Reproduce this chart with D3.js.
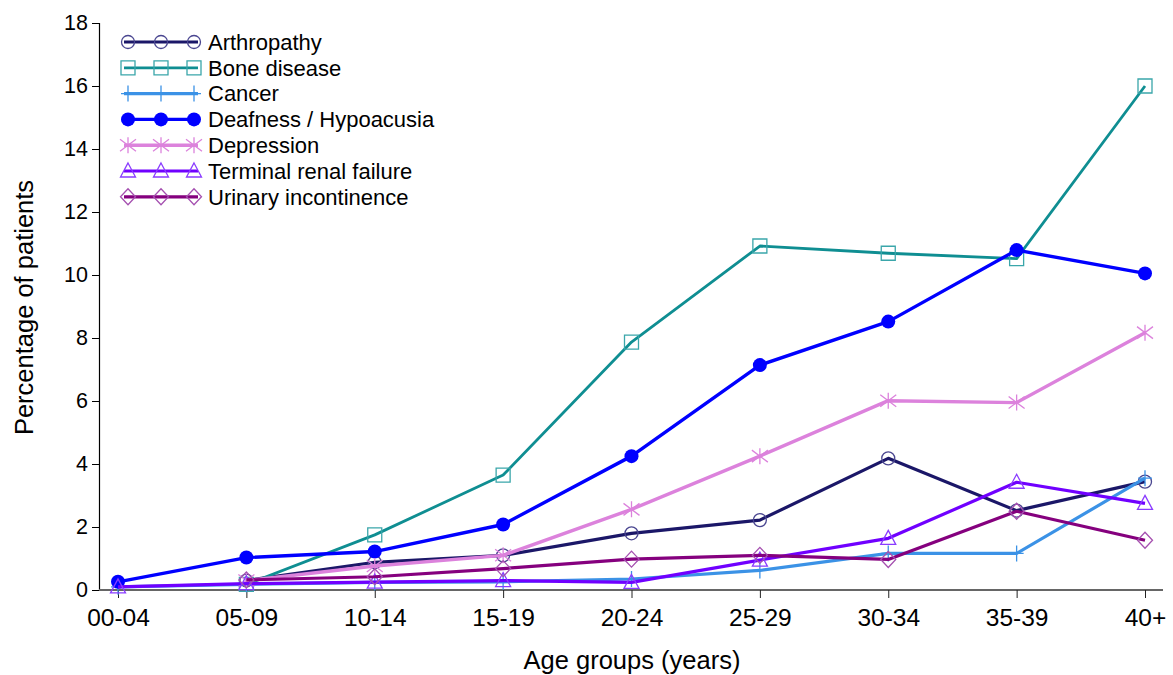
<!DOCTYPE html>
<html>
<head>
<meta charset="utf-8">
<script src="https://cdn.jsdelivr.net/npm/d3@7"></script>
<style>
  body { margin: 0; background: #fff; }
  text { font-family: "Liberation Sans", Arial, sans-serif; fill: #000; }
</style>
</head>
<body>
<div id="wrapper"></div>
<script>
// Data
const ageGroups = ['00-04', '05-09', '10-14', '15-19', '20-24', '25-29', '30-34', '35-39', '40+']
const yTicks = [0, 2, 4, 6, 8, 10, 12, 14, 16, 18]

// null = no point for that age group
const arthropathy = [null, 0.3, 0.88, 1.1, 1.8, 2.22, 4.18, 2.52, 3.44]
const boneDisease = [null, 0.18, 1.75, 3.65, 7.87, 10.92, 10.69, 10.52, 16.0]
const cancer = [0.1, 0.18, 0.24, 0.26, 0.35, 0.62, 1.16, 1.16, 3.55]
const deafness = [0.26, 1.03, 1.22, 2.08, 4.25, 7.14, 8.52, 10.79, 10.05]
const depression = [null, 0.3, 0.76, 1.1, 2.56, 4.25, 6.01, 5.95, 8.17]
const renalFailure = [0.1, 0.2, 0.25, 0.3, 0.24, 0.95, 1.64, 3.42, 2.75]
const urinary = [null, 0.32, 0.42, 0.68, 0.98, 1.1, 0.97, 2.5, 1.58]

const seriesNames = ['Arthropathy', 'Bone disease', 'Cancer', 'Deafness / Hypoacusia', 'Depression', 'Terminal renal failure', 'Urinary incontinence']
const seriesValues = [arthropathy, boneDisease, cancer, deafness, depression, renalFailure, urinary]

// Styling per series
const styles = [
  { line: '#1b1768', mark: '#4a4690', shape: 'circle', fill: 'none', width: 3.2 },
  { line: '#0f8e92', mark: '#3aa6aa', shape: 'square', fill: 'none', width: 2.8 },
  { line: '#3b92e6', mark: '#3b92e6', shape: 'plus', fill: 'none', width: 3.2 },
  { line: '#0000ff', mark: '#0000ff', shape: 'dot', fill: '#0000ff', width: 3.4 },
  { line: '#dc82dc', mark: '#dc82dc', shape: 'star', fill: 'none', width: 3.4 },
  { line: '#7000ff', mark: '#8a3cff', shape: 'triangle', fill: 'none', width: 3.2 },
  { line: '#85007e', mark: '#a550b0', shape: 'diamond', fill: 'none', width: 3.2 },
]

function markerPath(shape) {
  const p = d3.path()
  if (shape === 'square') {
    p.rect(-7, -7, 14, 14)
  } else if (shape === 'plus') {
    p.moveTo(0, -8); p.lineTo(0, 8)
    p.moveTo(-7, 0); p.lineTo(7, 0)
  } else if (shape === 'star') {
    p.moveTo(-8, -6); p.lineTo(8, 6)
    p.moveTo(-8, 6); p.lineTo(8, -6)
    p.moveTo(0, -8); p.lineTo(0, 8)
  } else if (shape === 'triangle') {
    p.moveTo(0, -8); p.lineTo(7.5, 6); p.lineTo(-7.5, 6); p.closePath()
  } else if (shape === 'diamond') {
    p.moveTo(0, -8); p.lineTo(7.5, 0); p.lineTo(0, 8); p.lineTo(-7.5, 0); p.closePath()
  } else if (shape === 'circle') {
    p.arc(0, 0, 6.5, 0, 2 * Math.PI)
  } else if (shape === 'dot') {
    p.arc(0, 0, 7, 0, 2 * Math.PI)
  }
  return p.toString()
}

const width = 1173
const height = 675
const plot = { left: 99, right: 1163, top: 23, bottom: 590 }

const svg = d3.select('#wrapper')
  .append('svg')
  .attr('width', width)
  .attr('height', height)

const xScale = d3.scalePoint()
  .domain(ageGroups)
  .range([118, 1145])

const yScale = d3.scaleLinear()
  .domain([0, 18])
  .range([plot.bottom, plot.top])

// Axes
const yAxis = svg.append('g')
  .attr('transform', `translate(${plot.left},0)`)
  .call(d3.axisLeft(yScale).tickValues(yTicks).tickSize(7).tickPadding(4).tickFormat(d3.format('d')))
yAxis.select('.domain').attr('stroke', '#000').attr('stroke-width', 1.2)
yAxis.selectAll('.tick line').attr('stroke', '#000')
yAxis.selectAll('text').style('font-size', '21.5px')

const xAxis = svg.append('g')
  .attr('transform', `translate(0,${plot.bottom})`)
  .call(d3.axisBottom(xScale).tickSize(8).tickPadding(11))
xAxis.select('.domain')
  .attr('d', `M${plot.left},0H${plot.right}`)
  .attr('stroke', '#666').attr('stroke-width', 2)
xAxis.selectAll('.tick line').attr('stroke', '#222')
xAxis.selectAll('text').style('font-size', '24.5px')

// Axis titles
svg.append('text')
  .attr('x', 632)
  .attr('y', 669)
  .attr('text-anchor', 'middle')
  .style('font-size', '25.5px')
  .text('Age groups (years)')

svg.append('text')
  .attr('transform', `translate(33,${(plot.top + plot.bottom) / 2 + 1}) rotate(-90)`)
  .attr('text-anchor', 'middle')
  .style('font-size', '25.5px')
  .text('Percentage of patients')

// Lines and markers
const lineGen = d3.line()
  .defined(d => d.v !== null)
  .x(d => xScale(d.g))
  .y(d => yScale(d.v))

seriesValues.forEach((values, i) => {
  const st = styles[i]
  const pts = values.map((v, j) => ({ g: ageGroups[j], v }))
  const g = svg.append('g').attr('class', 'series')

  g.append('path')
    .attr('d', lineGen(pts))
    .attr('fill', 'none')
    .attr('stroke', st.line)
    .attr('stroke-width', st.width)
    .attr('stroke-linejoin', 'round')

  g.selectAll('.mark')
    .data(pts.filter(d => d.v !== null))
    .join('path')
    .attr('class', 'mark')
    .attr('transform', d => `translate(${xScale(d.g)},${yScale(d.v)})`)
    .attr('d', markerPath(st.shape))
    .attr('fill', st.fill)
    .attr('stroke', st.mark)
    .attr('stroke-width', st.shape === 'dot' ? 0 : 1.3)
})

// Legend
const legend = svg.append('g').attr('transform', 'translate(124,42)')
const rowH = 25.8
seriesNames.forEach((name, i) => {
  const st = styles[i]
  const row = legend.append('g').attr('transform', `translate(0,${i * rowH})`)
  row.append('line')
    .attr('x1', 0).attr('x2', 74)
    .attr('stroke', st.line)
    .attr('stroke-width', st.width)
  ;[4, 37, 70].forEach(mx => {
    row.append('path')
      .attr('transform', `translate(${mx},0)`)
      .attr('d', markerPath(st.shape))
      .attr('fill', st.fill)
      .attr('stroke', st.mark)
      .attr('stroke-width', st.shape === 'dot' ? 0 : 1.3)
  })
  row.append('text')
    .attr('x', 84)
    .attr('dy', '0.35em')
    .style('font-size', '22px')
    .text(name)
})
</script>
</body>
</html>
